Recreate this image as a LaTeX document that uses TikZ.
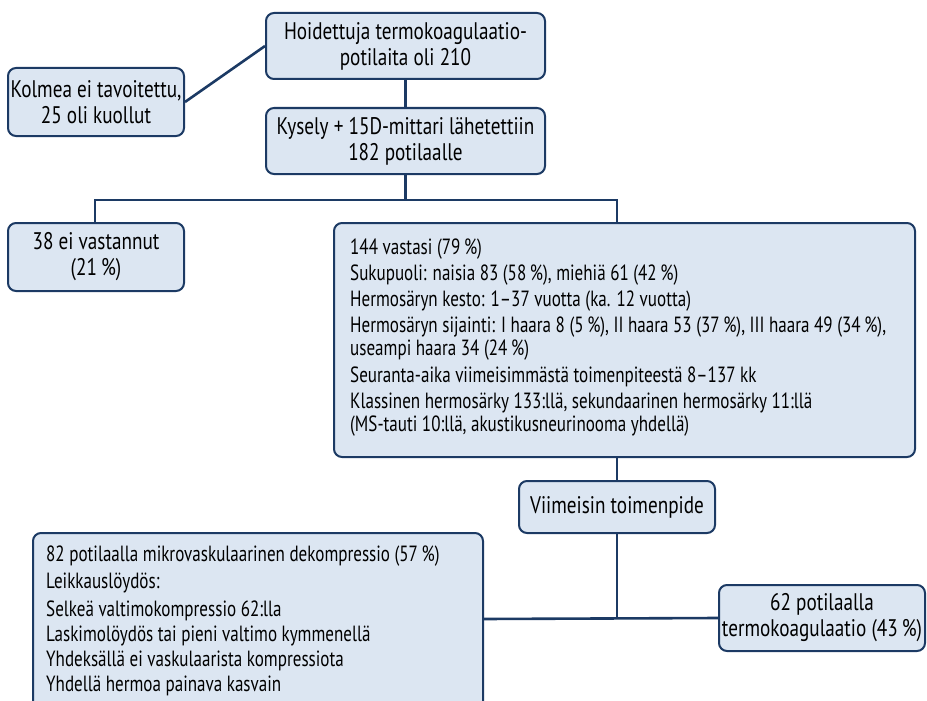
\documentclass[tikz,border=0pt]{standalone}
\usepackage{fontspec}
\setmainfont{PT Sans}[FakeStretch=0.775]
\newfontfamily\labelfont{PT Sans}[FakeStretch=0.80]
\definecolor{boxfill}{HTML}{DCE6F2}
\definecolor{navy}{HTML}{1C3A64}
\begin{document}
\begin{tikzpicture}[x=1pt,y=-1pt,
  box/.style={draw=navy, line width=2pt, fill=boxfill, rounded corners=8pt, inner sep=0pt},
  conn/.style={draw=navy, line width=2.6pt},
  lbl/.style={font=\labelfont\fontsize{24}{26}\selectfont, align=center},
  ln/.style={font=\fontsize{22}{24}\selectfont, anchor=base west, inner sep=0pt},
]
\useasboundingbox (0,0) rectangle (927,701);
% boxes
\node[box, lbl, minimum width=279pt, minimum height=66pt] (top) at (405.5,46)
  {Hoidettuja termokoagulaatio-\\potilaita oli 210};
\node[box, lbl, minimum width=176pt, minimum height=68pt] (kolmea) at (96,102)
  {Kolmea ei tavoitettu,\\25 oli kuollut};
\node[box, lbl, minimum width=279pt, minimum height=66pt] (kysely) at (405.5,141)
  {Kysely + 15D-mittari lähetettiin\\182 potilaalle};
\node[box, lbl, minimum width=176pt, minimum height=68pt] (noresp) at (96,257)
  {38 ei vastannut\\(21\,\%)};
\node[box, minimum width=581pt, minimum height=234pt] (big) at (624.5,340) {};
\node[box, lbl, minimum width=196pt, minimum height=52pt] (viim) at (617,507)
  {Viimeisin toimenpide};
\node[box, minimum width=450pt, minimum height=190pt] (mvd) at (258,628) {};
\node[box, lbl, minimum width=206pt, minimum height=66pt] (tk) at (822,618)
  {62 potilaalla\\termokoagulaatio (43\,\%)};
% big box text
\node[ln] (b1) at (350,254) {144 vastasi (79\,\%)};
\node[ln] (b2) at (350,280) {Sukupuoli: naisia 83 (58\,\%), miehiä 61 (42\,\%)};
\node[ln] (b3) at (350,306) {Hermosäryn kesto: 1–37 vuotta (ka. 12 vuotta)};
\node[ln] (b4) at (350,332) {Hermosäryn sijainti: I haara 8 (5\,\%), II haara 53 (37\,\%), III haara 49 (34\,\%),};
\node[ln] (b5) at (350,355) {useampi haara 34 (24\,\%)};
\node[ln] (b6) at (350,382) {Seuranta-aika viimeisimmästä toimenpiteestä 8–137 kk};
\node[ln] (b7) at (350,408) {Klassinen hermosärky 133:llä, sekundaarinen hermosärky 11:llä};
\node[ln] (b8) at (350,431) {(MS-tauti 10:llä, akustikusneurinooma yhdellä)};
% bottom-left text
\node[ln] (m1) at (46,561) {82 potilaalla mikrovaskulaarinen dekompressio (57\,\%)};
\node[ln] (m2) at (46,588) {Leikkauslöydös:};
\node[ln] (m3) at (46,616) {Selkeä valtimokompressio 62:lla};
\node[ln] (m4) at (46,641) {Laskimolöydös tai pieni valtimo kymmenellä};
\node[ln] (m5) at (46,666) {Yhdeksällä ei vaskulaarista kompressiota};
\node[ln] (m6) at (46,691) {Yhdellä hermoa painava kasvain};
% connectors
\coordinate (split) at (405.5,200);
\coordinate (bj) at (617,223);
\coordinate (j) at (617,619);
\draw[conn] (kolmea.east) -- (top.west);
\draw[conn] (top.south) -- (kysely.north);
\draw[conn] (kysely.south) -- (split);
\draw[conn] (noresp.north -| 95,0) -- (95,200) -- (617,200) -- (bj);
\draw[conn] (viim.north |- big.south) -- (viim.north);
\draw[conn] (viim.south) -- (j);
\draw[conn] (mvd.east |- j) -- (tk.west);
\end{tikzpicture}
\end{document}
